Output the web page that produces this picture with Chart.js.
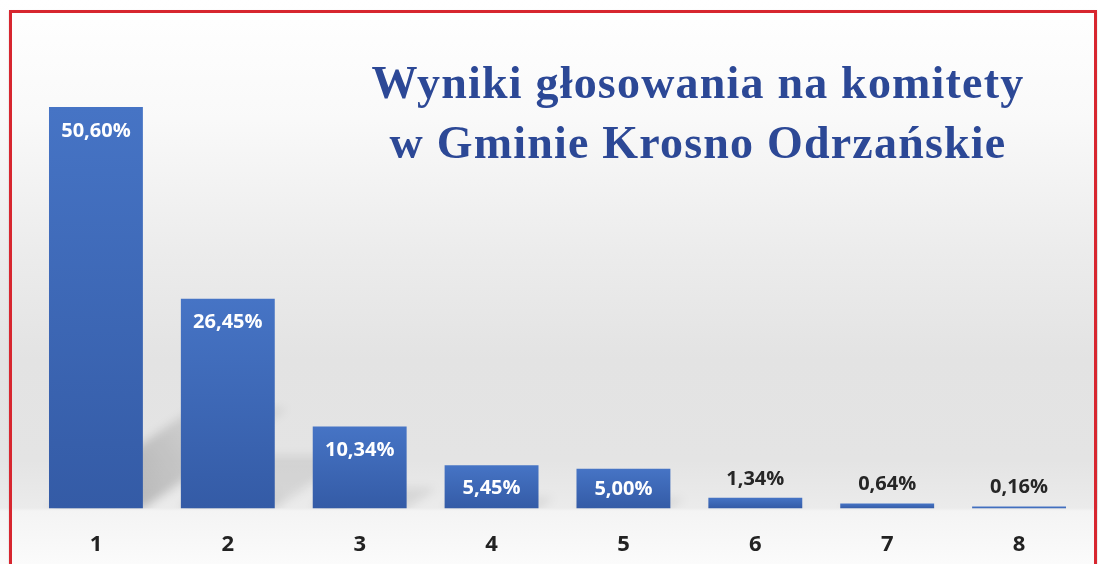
<!DOCTYPE html>
<html lang="pl">
<head>
<meta charset="utf-8">
<title>Wyniki głosowania na komitety</title>
<script src="https://cdn.jsdelivr.net/npm/chart.js@4.4.1/dist/chart.umd.min.js"></script>
<style>
  html, body {
    margin: 0;
    padding: 0;
    width: 1098px;
    height: 564px;
    overflow: hidden;
  }
  body {
    position: relative;
    background: linear-gradient(to bottom, #ffffff 0px, #f9f9f9 120px, #ececec 250px, #e3e3e3 360px, #e4e4e4 460px, #ebebeb 508px, #f4f4f4 511px, #fbfbfb 564px);
  }
  #frame {
    position: absolute;
    left: 9px;
    top: 10px;
    width: 1082px;
    height: 600px;
    border: 3px solid #d7262f;
    box-shadow: 0 1px 2px rgba(0, 0, 0, 0.15);
  }
  #title {
    position: absolute;
    left: 298px;
    top: 53px;
    width: 800px;
    text-align: center;
    font-family: "Liberation Serif", "DejaVu Serif", serif;
    font-weight: bold;
    font-size: 46px;
    letter-spacing: 1.2px;
    line-height: 60px;
    color: #2c4896;
    white-space: nowrap;
  }
  #chart {
    position: absolute;
    left: 0;
    top: 0;
  }
</style>
</head>
<body>
<div id="frame"></div>
<canvas id="chart" width="1098" height="564"></canvas>
<div id="title">Wyniki głosowania na komitety<br>w Gminie Krosno Odrzańskie</div>

<script>
// data
const categories = ["1", "2", "3", "4", "5", "6", "7", "8"];
const values = [50.60, 26.45, 10.34, 5.45, 5.00, 1.34, 0.64, 0.16];
const valueLabels = values.map((v) => v.toFixed(2).replace(".", ",") + "%");

const labelFont = "bold 20px 'Open Sans', 'Noto Sans', sans-serif";

// soft diagonal shadows cast behind each bar
const barShadows = {
  id: "barShadows",
  beforeDatasetsDraw(chart) {
    const ctx = chart.ctx;
    const meta = chart.getDatasetMeta(0);
    ctx.save();
    ctx.beginPath();
    ctx.rect(0, 0, chart.width, meta.data[0].base);
    ctx.clip();
    ctx.filter = "blur(5px)";
    meta.data.forEach((bar) => {
      const w = bar.width;
      const x0 = bar.x - w / 2;
      const x1 = bar.x + w / 2;
      const h = bar.base - bar.y;
      const dx = h * 0.36;
      const dy = h * 0.25;
      const grad = ctx.createLinearGradient(x0, bar.base, x0 + dx + 1, bar.base - dy - 1);
      grad.addColorStop(0, "rgba(0,0,0,0.30)");
      grad.addColorStop(1, "rgba(0,0,0,0.08)");
      ctx.fillStyle = grad;
      ctx.beginPath();
      ctx.moveTo(x0, bar.base);
      ctx.lineTo(x1, bar.base);
      ctx.lineTo(x1 + dx, bar.base - dy);
      ctx.lineTo(x0 + dx, bar.base - dy);
      ctx.closePath();
      ctx.fill();
    });
    ctx.restore();
  },
};

// value labels: white inside the big bars, dark above the small ones
const valueLabelsPlugin = {
  id: "valueLabels",
  afterDatasetsDraw(chart) {
    const ctx = chart.ctx;
    const meta = chart.getDatasetMeta(0);
    ctx.save();
    ctx.font = labelFont;
    ctx.textAlign = "center";
    ctx.textBaseline = "middle";
    meta.data.forEach((bar, i) => {
      if (values[i] >= 5) {
        ctx.fillStyle = "#ffffff";
        const y = Math.min(bar.y + 24, (bar.y + bar.base) / 2 + 1);
        ctx.fillText(valueLabels[i], bar.x, y);
      } else {
        ctx.fillStyle = "#262626";
        ctx.fillText(valueLabels[i], bar.x, bar.y - 19);
      }
    });
    ctx.restore();
  },
};

function barGradient(context) {
  const chart = context.chart;
  const y = chart.scales.y;
  if (!y || context.dataIndex === undefined) return "#4472c4";
  const top = y.getPixelForValue(values[context.dataIndex]);
  const bottom = y.getPixelForValue(0);
  if (!isFinite(top) || !isFinite(bottom)) return "#4472c4";
  const grad = chart.ctx.createLinearGradient(0, top, 0, bottom + 0.01);
  grad.addColorStop(0, "#4674c5");
  grad.addColorStop(1, "#345ba6");
  return grad;
}

new Chart(document.getElementById("chart"), {
  type: "bar",
  data: {
    labels: categories,
    datasets: [
      {
        data: values,
        backgroundColor: barGradient,
        borderWidth: 0,
        categoryPercentage: 1,
        barPercentage: 0.712,
        minBarLength: 2,
      },
    ],
  },
  options: {
    responsive: false,
    animation: false,
    layout: {
      padding: { top: 32.5, left: 30, right: 13, bottom: 0 },
    },
    plugins: {
      legend: { display: false },
      tooltip: { enabled: false },
    },
    scales: {
      x: {
        grid: { display: false, drawTicks: false },
        border: { display: false },
        afterFit: (scale) => {
          scale.height = 55.5;
        },
        ticks: {
          color: "#222222",
          padding: 23,
          font: { family: "'Open Sans', 'Noto Sans', sans-serif", size: 22, weight: "bold" },
        },
      },
      y: {
        display: false,
        min: 0,
        max: 60,
      },
    },
  },
  plugins: [barShadows, valueLabelsPlugin],
});
</script>
</body>
</html>
